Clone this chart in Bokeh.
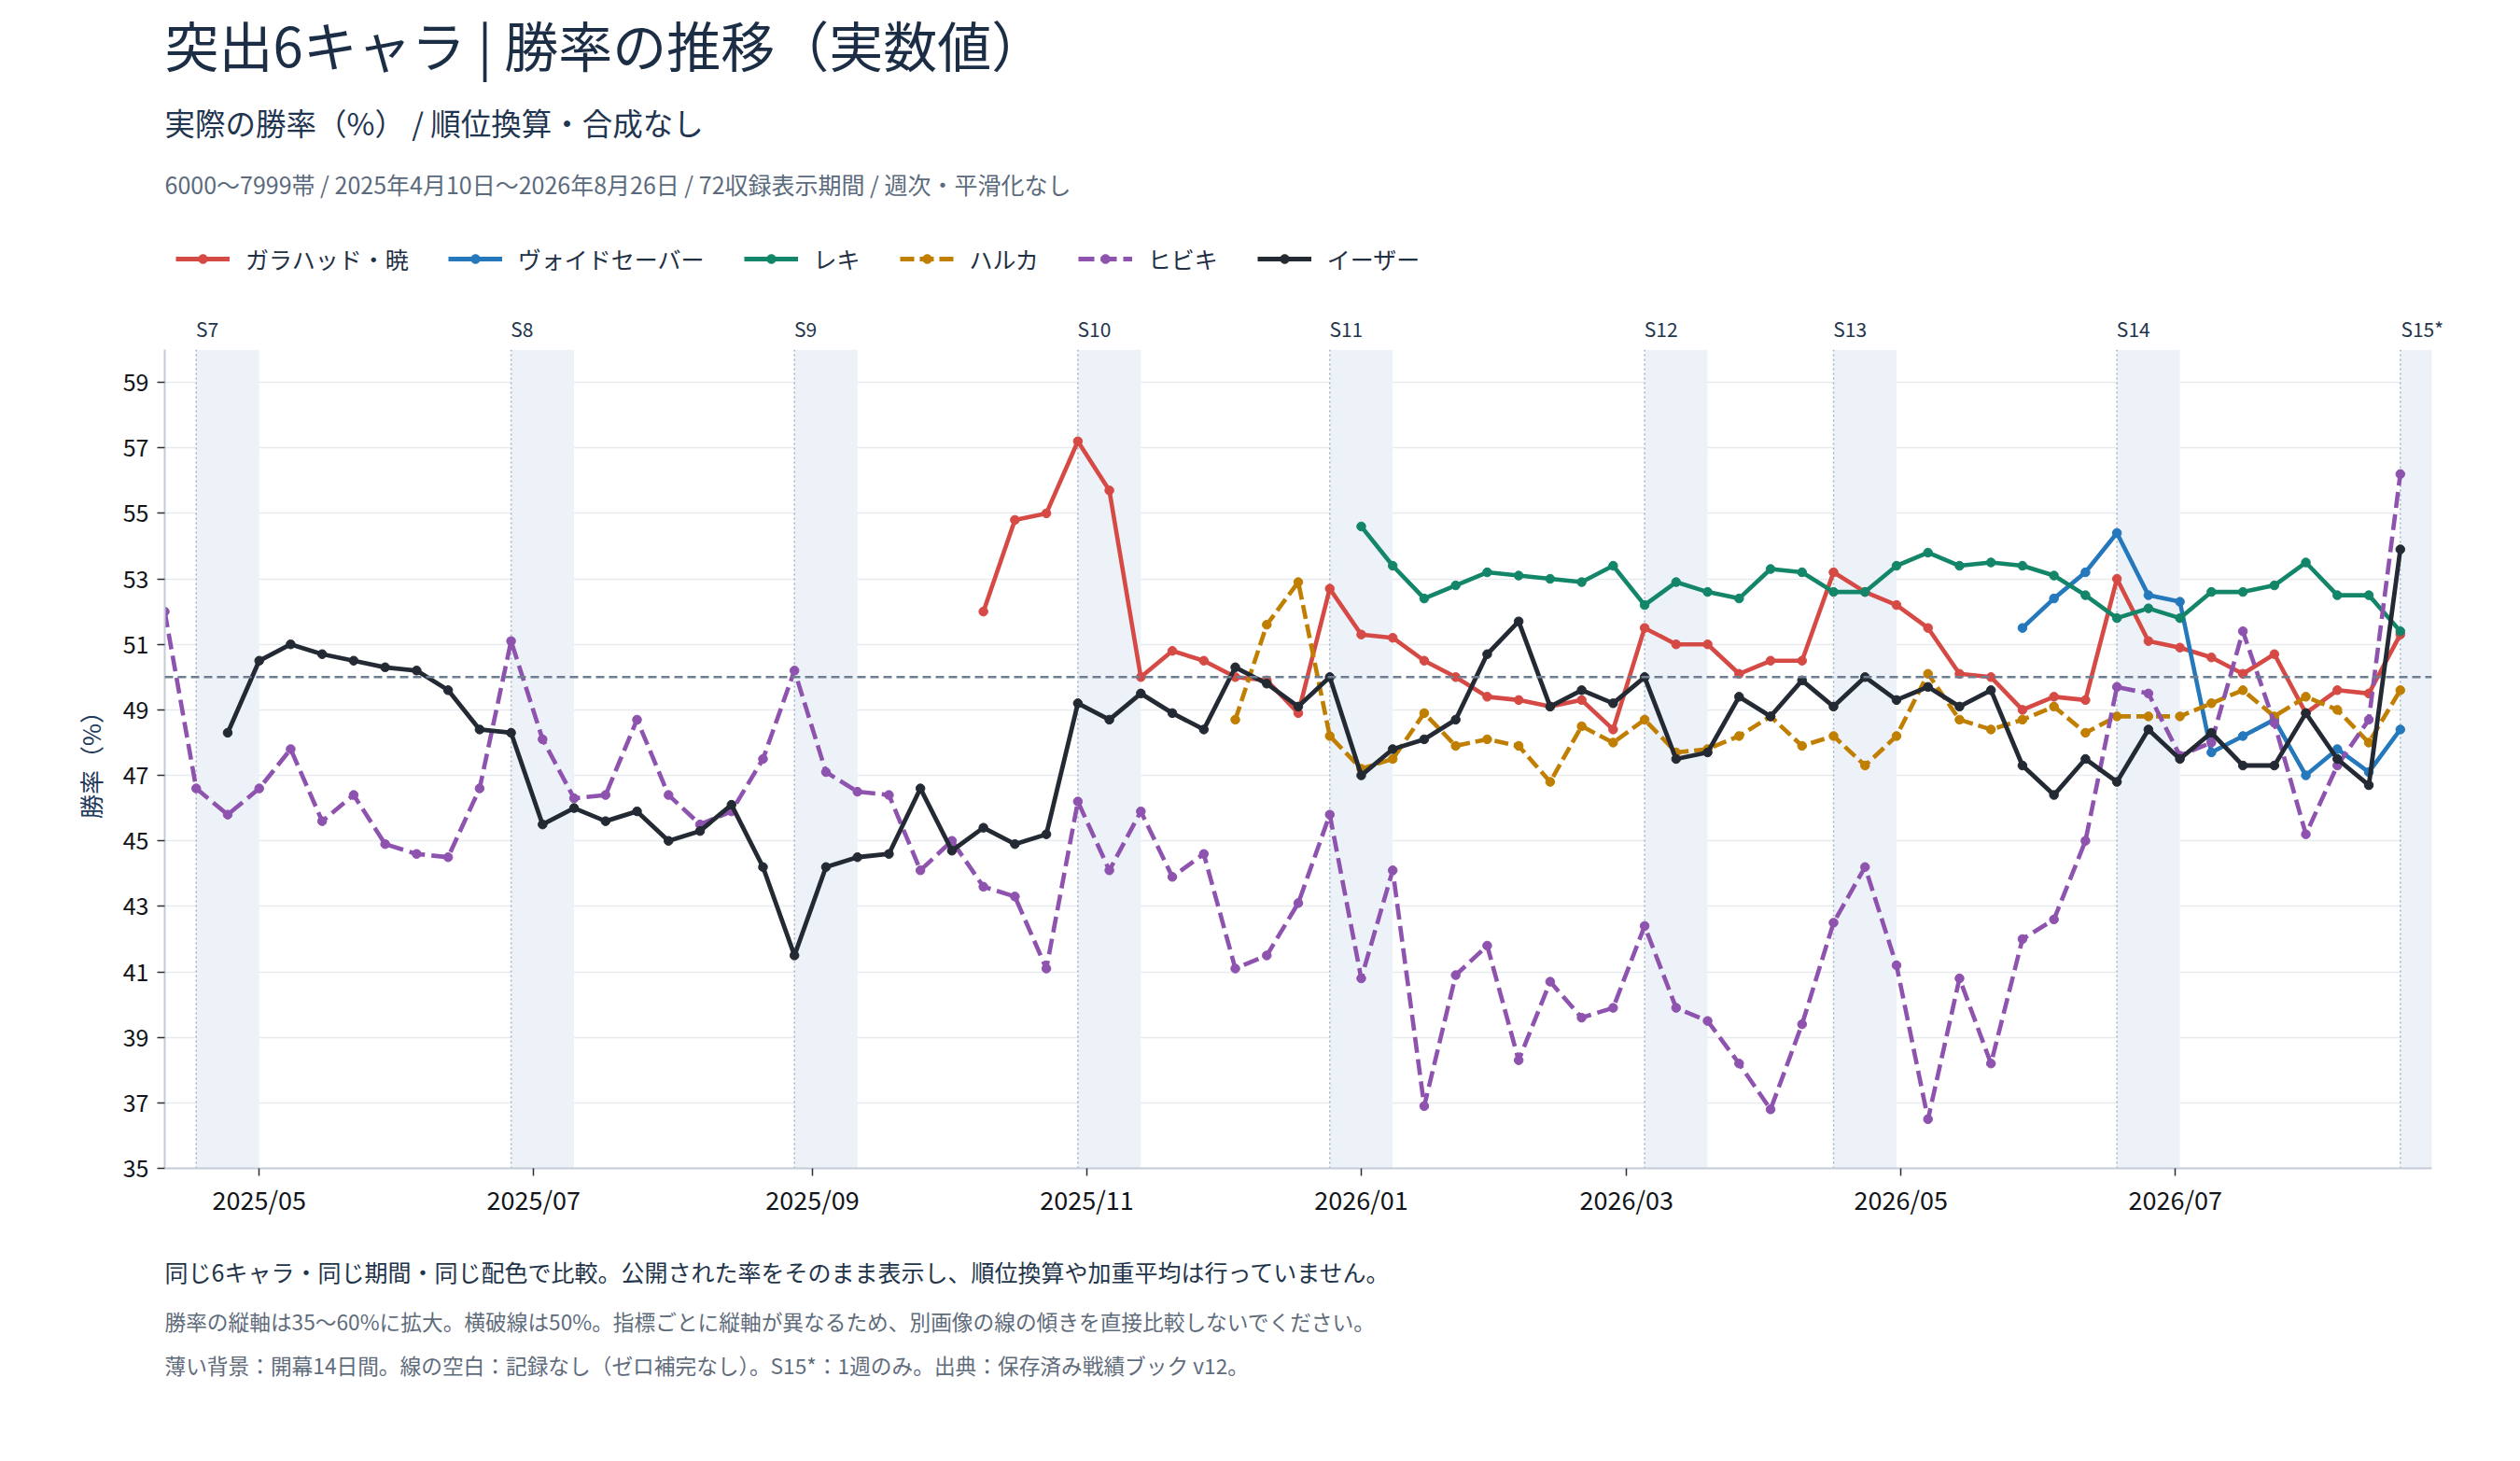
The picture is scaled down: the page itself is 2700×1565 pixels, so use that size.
import numpy as np
import pandas as pd
from bokeh.plotting import figure
from bokeh.layouts import column
from bokeh.models import (Range1d, Span, BoxAnnotation, Legend, LegendItem, Label, LinearAxis,
                          ColumnDataSource, DatetimeTickFormatter, MonthsTicker, FixedTicker)
from bokeh.embed import file_html
from bokeh.resources import INLINE

FONT = "Noto Sans CJK JP"

# ---------------- data ----------------
start_date = "2025-04-10"
n_weeks = 72
x_end = "2026-08-27"

names = ["ガラハッド・暁", "ヴォイドセーバー", "レキ", "ハルカ", "ヒビキ", "イーザー"]
colors = ["#d64a45", "#2478bb", "#13866a", "#c07f00", "#8e53ae", "#242a33"]
dashes = ["solid", "solid", "solid", "15 6", "17 7", "solid"]

# first week index of each series, followed by its weekly values
galahad_first = 26
galahad = [52.0, 54.8, 55.0, 57.2, 55.7, 50.0, 50.8, 50.5, 50.0, 49.9, 48.9, 52.7,
           51.3, 51.2, 50.5, 50.0, 49.4, 49.3, 49.1, 49.3, 48.4, 51.5, 51.0, 51.0,
           50.1, 50.5, 50.5, 53.2, 52.6, 52.2, 51.5, 50.1, 50.0, 49.0, 49.4, 49.3,
           53.0, 51.1, 50.9, 50.6, 50.1, 50.7, 48.9, 49.6, 49.5, 51.3]
void_first = 59
void_saber = [51.5, 52.4, 53.2, 54.4, 52.5, 52.3, 47.7, 48.2, 48.7, 47.0, 47.8, 47.1, 48.4]
reki_first = 38
reki = [54.6, 53.4, 52.4, 52.8, 53.2, 53.1, 53.0, 52.9, 53.4, 52.2, 52.9, 52.6,
        52.4, 53.3, 53.2, 52.6, 52.6, 53.4, 53.8, 53.4, 53.5, 53.4, 53.1, 52.5,
        51.8, 52.1, 51.8, 52.6, 52.6, 52.8, 53.5, 52.5, 52.5, 51.4]
haruka_first = 34
haruka = [48.7, 51.6, 52.9, 48.2, 47.2, 47.5, 48.9, 47.9, 48.1, 47.9, 46.8, 48.5,
          48.0, 48.7, 47.7, 47.8, 48.2, 48.8, 47.9, 48.2, 47.3, 48.2, 50.1, 48.7,
          48.4, 48.7, 49.1, 48.3, 48.8, 48.8, 48.8, 49.2, 49.6, 48.8, 49.4, 49.0,
          48.0, 49.6]
hibiki_first = 0
hibiki = [52.0, 46.6, 45.8, 46.6, 47.8, 45.6, 46.4, 44.9, 44.6, 44.5, 46.6, 51.1,
          48.1, 46.3, 46.4, 48.7, 46.4, 45.5, 45.9, 47.5, 50.2, 47.1, 46.5, 46.4,
          44.1, 45.0, 43.6, 43.3, 41.1, 46.2, 44.1, 45.9, 43.9, 44.6, 41.1, 41.5,
          43.1, 45.8, 40.8, 44.1, 36.9, 40.9, 41.8, 38.3, 40.7, 39.6, 39.9, 42.4,
          39.9, 39.5, 38.2, 36.8, 39.4, 42.5, 44.2, 41.2, 36.5, 40.8, 38.2, 42.0,
          42.6, 45.0, 49.7, 49.5, 47.6, 48.0, 51.4, 48.6, 45.2, 47.3, 48.7, 56.2]
eather_first = 2
eather = [48.3, 50.5, 51.0, 50.7, 50.5, 50.3, 50.2, 49.6, 48.4, 48.3, 45.5, 46.0,
          45.6, 45.9, 45.0, 45.3, 46.1, 44.2, 41.5, 44.2, 44.5, 44.6, 46.6, 44.7,
          45.4, 44.9, 45.2, 49.2, 48.7, 49.5, 48.9, 48.4, 50.3, 49.8, 49.1, 50.0,
          47.0, 47.8, 48.1, 48.7, 50.7, 51.7, 49.1, 49.6, 49.2, 50.0, 47.5, 47.7,
          49.4, 48.8, 49.9, 49.1, 50.0, 49.3, 49.7, 49.1, 49.6, 47.3, 46.4, 47.5,
          46.8, 48.4, 47.5, 48.3, 47.3, 47.3, 48.9, 47.5, 46.7, 53.9]

series_values = [galahad, void_saber, reki, haruka, hibiki, eather]
series_first = [galahad_first, void_first, reki_first, haruka_first, hibiki_first, eather_first]

season_names = ["S7", "S8", "S9", "S10", "S11", "S12", "S13", "S14", "S15*"]
season_starts = ["2025-04-17", "2025-06-26", "2025-08-28", "2025-10-30", "2025-12-25",
                 "2026-03-05", "2026-04-16", "2026-06-18", "2026-08-20"]
opening_days = 14

y_ticks = list(range(35, 60, 2))
reference_rate = 50

title_text = "突出6キャラ | 勝率の推移（実数値）"
subtitle_text = "実際の勝率（%） / 順位換算・合成なし"
meta_text = "6000〜7999帯 / 2025年4月10日〜2026年8月26日 / 72収録表示期間 / 週次・平滑化なし"
note1 = "同じ6キャラ・同じ期間・同じ配色で比較。公開された率をそのまま表示し、順位換算や加重平均は行っていません。"
note2 = "勝率の縦軸は35〜60%に拡大。横破線は50%。指標ごとに縦軸が異なるため、別画像の線の傾きを直接比較しないでください。"
note3 = "薄い背景：開幕14日間。線の空白：記録なし（ゼロ補完なし）。S15*：1週のみ。出典：保存済み戦績ブック v12。"

# ---------------- layout constants ----------------
DAY_MS = 86400000.0
W = 2684
LEFT, RIGHT = 176, 79
FW = W - LEFT - RIGHT          # frame width of the main chart
FH = 877                       # frame height of the main chart
TOP_AXIS_H = 48
HEAD_H = 374 - TOP_AXIS_H
AXIS_H = 60
FOOT_H = 238


def ms(d):
    return pd.Timestamp(d).value / 1e6


dates = pd.date_range(start_date, periods=n_weeks, freq="7D")
x0, x1 = ms(start_date), ms(x_end)
ms_per_px = (x1 - x0) / FW


def text_label(fig, txt, y, size, color):
    fig.add_layout(Label(x=0, y=y, x_units="screen", y_units="screen", text=txt,
                         text_font=FONT, text_font_size=size, text_color=color,
                         text_baseline="middle", text_align="left"))


def bare_figure(height):
    f = figure(width=W, height=height, x_range=Range1d(0, FW), y_range=Range1d(0, height),
               x_axis_location=None, y_axis_location=None, toolbar_location=None,
               output_backend="svg", min_border_left=LEFT, min_border_right=RIGHT,
               min_border_top=0, min_border_bottom=0)
    f.outline_line_color = None
    f.grid.visible = False
    return f


# ---------------- header ----------------
hdr = bare_figure(HEAD_H)
text_label(hdr, title_text, HEAD_H - 46, "58px", "#1b2e45")
text_label(hdr, subtitle_text, HEAD_H - 130, "32.5px", "#1f3550")
text_label(hdr, meta_text, HEAD_H - 196, "25px", "#5b6b7d")

items = []
for nm, col, dsh in zip(names, colors, dashes):
    dummy = ColumnDataSource(dict(x=[np.nan], y=[np.nan]))
    r1 = hdr.line("x", "y", source=dummy, line_color=col, line_width=5, line_dash=dsh)
    r2 = hdr.scatter("x", "y", source=dummy, size=9, fill_color=col, line_color=col)
    items.append(LegendItem(label=nm, renderers=[r1, r2]))
legend = Legend(items=items, orientation="horizontal", location=(12, HEAD_H - 295),
                background_fill_alpha=0, border_line_alpha=0, padding=0, margin=0,
                spacing=42, label_standoff=17, glyph_width=58, glyph_height=24,
                label_height=24, label_text_font=FONT, label_text_font_size="25px",
                label_text_color="#1f2f44", label_text_baseline="middle")
hdr.add_layout(legend)

# ---------------- main chart ----------------
p = figure(width=W, height=TOP_AXIS_H + FH + AXIS_H, x_axis_type="datetime",
           x_range=Range1d(x0, x1), y_range=Range1d(35, 60),
           output_backend="svg", toolbar_location=None,
           min_border_left=LEFT, min_border_right=RIGHT, min_border_top=TOP_AXIS_H,
           min_border_bottom=AXIS_H)
p.outline_line_color = None
p.background_fill_color = "white"

for s in season_starts:
    p.add_layout(BoxAnnotation(left=ms(s), right=ms(s) + opening_days * DAY_MS,
                               fill_color="#edf2f8", fill_alpha=1.0, line_color=None,
                               level="underlay"))
    p.add_layout(Span(location=ms(s), dimension="height", line_color="#a3b2c6",
                      line_width=1.5, line_dash="2 3", level="underlay"))

p.xgrid.grid_line_color = None
p.ygrid.grid_line_color = "#e8eaed"
p.ygrid.grid_line_width = 1.5

p.add_layout(Span(location=reference_rate, dimension="width", line_color="#6e7e90",
                  line_width=2.5, line_dash="9 5"))

for nm, col, dsh, vals, first in zip(names, colors, dashes, series_values, series_first):
    y = np.full(n_weeks, np.nan)
    y[first:first + len(vals)] = vals
    src = ColumnDataSource(dict(x=dates, y=y))
    lw = 4.8 if nm == "イーザー" else 4.6
    p.line("x", "y", source=src, line_color=col, line_width=lw, line_dash=dsh)
    p.scatter("x", "y", source=src, size=9.5, fill_color=col, line_color=col)

p.yaxis.ticker = FixedTicker(ticks=y_ticks)
p.xaxis.ticker = MonthsTicker(months=[0, 2, 4, 6, 8, 10])
p.xaxis.formatter = DatetimeTickFormatter(months="%Y/%m", days="%Y/%m", years="%Y")
for ax in (p.xaxis, p.yaxis):
    ax.axis_line_color = "#c3ccd7"
    ax.axis_line_width = 2
    ax.major_tick_line_color = "#2a2f36"
    ax.major_tick_line_width = 1.5
    ax.major_tick_out = 8
    ax.major_tick_in = 0
    ax.minor_tick_line_color = None
    ax.major_label_text_font = FONT
    ax.major_label_text_color = "#111418"
p.xaxis.major_label_text_font_size = "27px"
p.yaxis.major_label_text_font_size = "25px"
p.xaxis.major_label_standoff = 5
p.yaxis.major_label_standoff = 9
p.yaxis.axis_label = "勝率（%）"
p.yaxis.axis_label_text_font = FONT
p.yaxis.axis_label_text_font_size = "26px"
p.yaxis.axis_label_text_font_style = "normal"
p.yaxis.axis_label_text_color = "#1f3a5c"
p.yaxis.axis_label_standoff = 14

# season labels: axis above the frame, ticks nudged so each label starts at its band start
season_label_px = 21
season_ticks = []
overrides = {}
for nm, s in zip(season_names, season_starts):
    half_w = 0.5 * 0.56 * season_label_px * len(nm)
    t = ms(s) + half_w * ms_per_px
    season_ticks.append(t)
    overrides[t] = nm
top_axis = LinearAxis(ticker=FixedTicker(ticks=season_ticks), major_label_overrides=overrides,
                      axis_line_color=None, major_tick_line_color=None, minor_tick_line_color=None,
                      major_tick_out=0, major_tick_in=0, major_label_standoff=8,
                      major_label_text_font=FONT, major_label_text_font_size=f"{season_label_px}px",
                      major_label_text_color="#24344a")
p.add_layout(top_axis, "above")

# ---------------- footer ----------------
ftr = bare_figure(FOOT_H)
foot_top = 374 + FH + AXIS_H
text_label(ftr, note1, FOOT_H - (1361 - foot_top), "25px", "#22344a")
text_label(ftr, note2, FOOT_H - (1415 - foot_top), "22.7px", "#5f6c7c")
text_label(ftr, note3, FOOT_H - (1462 - foot_top), "22.7px", "#5f6c7c")

layout = column(hdr, p, ftr, spacing=0)
open("out.html", "w").write(file_html(layout, INLINE))
